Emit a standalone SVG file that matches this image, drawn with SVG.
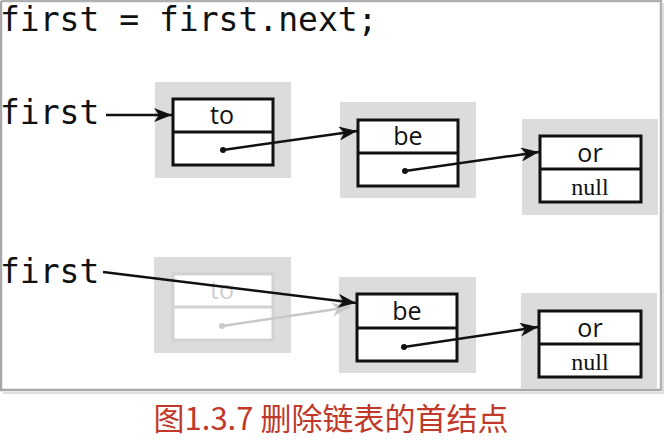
<svg xmlns="http://www.w3.org/2000/svg" width="670" height="442" viewBox="0 0 670 442">
<style>
.code{font-family:"DejaVu Sans Mono","Liberation Mono",monospace;font-size:33px;fill:#111}
.bg{fill:#dcdcdc}
.box{fill:#fff;stroke:#111;stroke-width:3}
.fbox{fill:#fff;stroke:#d2d2d2;stroke-width:3}
.lbl{font-family:"Open Sans","DejaVu Sans",sans-serif;font-size:25px;fill:#111;text-anchor:middle}
.nul{font-family:"Liberation Serif",serif;font-size:24px;fill:#111;text-anchor:middle}
.link{stroke:#111;stroke-width:2.5;fill:none}
.flink{stroke:#c8c8c8;stroke-width:2.5;fill:none}
.cap{font-family:"Noto Sans CJK SC",sans-serif;font-size:31px;fill:#c0392b;text-anchor:middle}
</style>
<defs>
<marker id="ah" markerUnits="userSpaceOnUse" markerWidth="20" markerHeight="14" refX="18" refY="7" orient="auto">
<path d="M0,0 L18,7 L0,14 L5,7 Z" fill="#111"/>
</marker>
<marker id="fah" markerUnits="userSpaceOnUse" markerWidth="20" markerHeight="14" refX="18" refY="7" orient="auto">
<path d="M0,0 L18,7 L0,14 L5,7 Z" fill="#c8c8c8"/>
</marker>
<marker id="dot" markerUnits="userSpaceOnUse" markerWidth="8" markerHeight="8" refX="4" refY="4">
<circle cx="4" cy="4" r="3" fill="#111"/>
</marker>
<marker id="fdot" markerUnits="userSpaceOnUse" markerWidth="8" markerHeight="8" refX="4" refY="4">
<circle cx="4" cy="4" r="3" fill="#c8c8c8"/>
</marker>
</defs>
<rect width="670" height="442" fill="#fff"/>
<g id="frame">
<path d="M1,1 H661 V391" fill="none" stroke="#b0b0b0" stroke-width="2.5"/>
<path d="M1,1 V390 H661" fill="none" stroke="#a8a8a8" stroke-width="2.5"/>
<path d="M663,3 V393 H3" fill="none" stroke="#dedede" stroke-width="2"/>
</g>
<text class="code" x="0" y="31">first = first.next;</text>
<text class="code" x="0" y="124">first</text>
<text class="code" x="0" y="283">first</text>
<g id="n1">
<rect class="bg" x="155" y="82" width="136" height="96"/>
<rect class="box" x="173" y="99" width="100" height="66"/>
<line x1="173" y1="132" x2="273" y2="132" stroke="#111" stroke-width="3"/>
<text class="lbl" x="222" y="124">to</text>
</g>
<g id="n2">
<rect class="bg" x="340" y="102" width="136" height="96"/>
<rect class="box" x="358" y="120" width="100" height="66"/>
<line x1="358" y1="153" x2="458" y2="153" stroke="#111" stroke-width="3"/>
<text class="lbl" x="408" y="145">be</text>
</g>
<g id="n3">
<rect class="bg" x="522" y="119" width="136" height="96"/>
<rect class="box" x="540" y="136" width="101" height="66"/>
<line x1="540" y1="169" x2="641" y2="169" stroke="#111" stroke-width="3"/>
<text class="lbl" x="590" y="162">or</text>
<text class="nul" x="590" y="195">null</text>
</g>
<g id="n4">
<rect class="bg" x="154" y="257" width="137" height="96"/>
<rect class="fbox" x="173" y="274" width="100" height="66"/>
<line x1="173" y1="307" x2="273" y2="307" stroke="#d2d2d2" stroke-width="3"/>
<text class="lbl" x="222" y="299" style="fill:#d0d0d0">to</text>
</g>
<g id="n5">
<rect class="bg" x="339" y="277" width="137" height="96"/>
<rect class="box" x="357" y="294" width="100" height="67"/>
<line x1="357" y1="328" x2="457" y2="328" stroke="#111" stroke-width="3"/>
<text class="lbl" x="407" y="320">be</text>
</g>
<g id="n6">
<rect class="bg" x="521" y="293" width="136" height="96"/>
<rect class="box" x="539" y="311" width="102" height="66"/>
<line x1="539" y1="344" x2="641" y2="344" stroke="#111" stroke-width="3"/>
<text class="lbl" x="590" y="337">or</text>
<text class="nul" x="590" y="370">null</text>
</g>
<g id="connectors">
<line class="link" x1="106" y1="115" x2="172" y2="115" marker-end="url(#ah)"/>
<line class="link" x1="223" y1="150" x2="357" y2="131" marker-start="url(#dot)" marker-end="url(#ah)"/>
<line class="link" x1="405" y1="171" x2="539" y2="152" marker-start="url(#dot)" marker-end="url(#ah)"/>
<line class="flink" x1="222" y1="326" x2="350" y2="307" marker-start="url(#fdot)" marker-end="url(#fah)"/>
<line class="link" x1="103" y1="272" x2="356" y2="303" marker-end="url(#ah)"/>
<line class="link" x1="404" y1="347" x2="538" y2="327" marker-start="url(#dot)" marker-end="url(#ah)"/>
</g>
<text class="cap" x="331" y="430">图1.3.7 删除链表的首结点</text>
</svg>
